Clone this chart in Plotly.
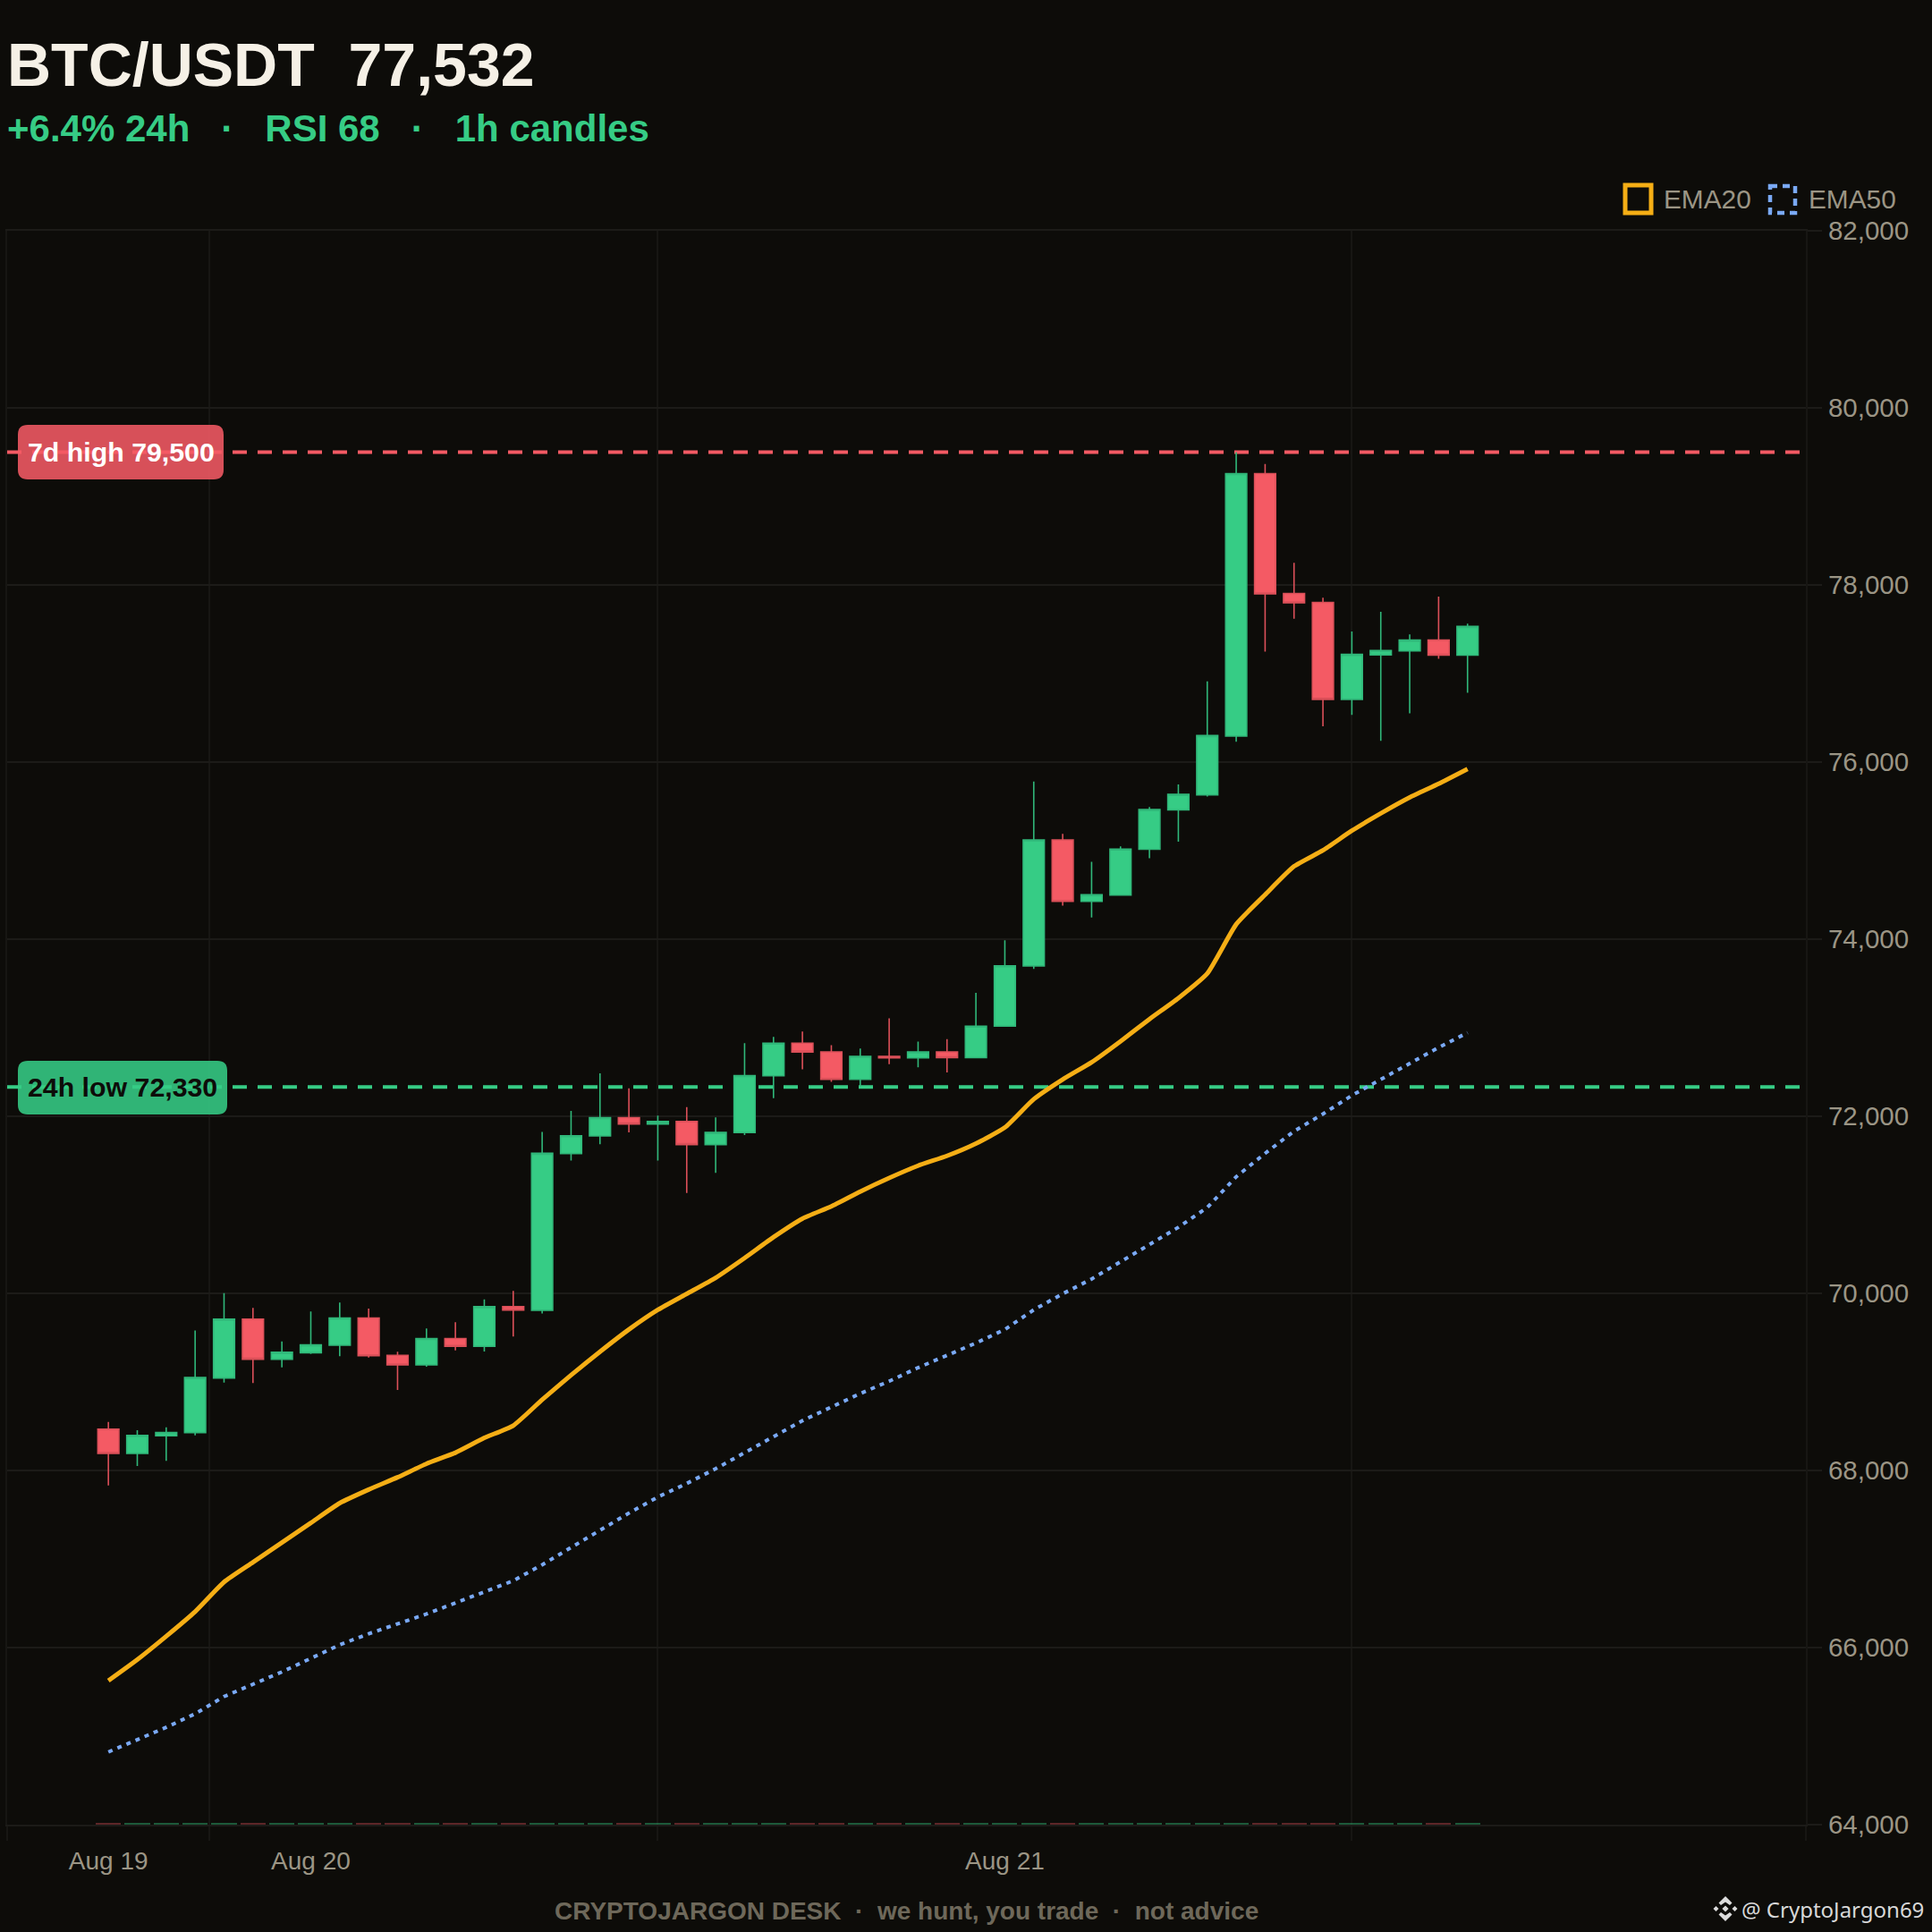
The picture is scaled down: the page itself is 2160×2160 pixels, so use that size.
import plotly.graph_objects as go

# ---------- data ----------
HOURS = list(range(48))
OPEN = [68466,68192,68391,68428,69044,69709,69256,69330,69414,69722,69301,69192,69490,69401,69850,69809,
        71580,71778,71985,71913,71941,71681,71815,72457,72825,72728,72417,72677,72659,72728,72662,73019,
        73698,75121,74427,74497,75015,75459,75629,76293,79257,77904,77803,76708,77211,77255,77378,77207]
HIGH = [68549,68455,68488,69582,70003,69835,69458,69795,69896,69828,69340,69603,69673,69933,70027,71822,
        72060,72484,72316,72007,72104,71987,72827,72897,72958,72803,72766,73105,72843,72870,73395,73987,
        75781,75190,74874,75049,75492,75748,76911,79500,79366,78250,77855,77474,77696,77443,77868,77562]
LOW = [67832,68050,68108,68397,68993,68987,69165,69316,69290,69276,68909,69172,69357,69343,69512,69772,
       71499,71684,71819,71499,71133,71362,71788,72205,72531,72390,72339,72588,72554,72494,72660,73015,
       73664,74380,74245,74495,74914,75102,75612,76229,77248,77619,76405,76533,76239,76550,77167,76782]
CLOSE = [68192,68396,68429,69049,69709,69256,69335,69419,69722,69296,69192,69490,69401,69850,69811,71582,
         71780,71985,71913,71941,71681,71817,72459,72825,72726,72417,72677,72659,72728,72662,73017,73699,
         75121,74427,74503,75017,75464,75635,76299,79257,77899,77798,76708,77216,77260,77378,77207,77532]
EMA20 = [65627,65864,66128,66406,66740,66963,67185,67408,67631,67784,67923,68076,68201,68368,68507,68799,
         69077,69341,69592,69814,69995,70176,70399,70635,70844,70983,71150,71303,71442,71553,71692,71873,
         72193,72416,72610,72847,73097,73334,73612,74168,74502,74822,75003,75225,75420,75601,75754,75921]
EMA50 = [64821,64960,65099,65252,65447,65586,65725,65878,66031,66156,66267,66379,66504,66629,66754,66935,
         67130,67324,67519,67700,67853,68020,68201,68382,68562,68716,68869,69008,69161,69300,69439,69592,
         69814,69995,70162,70357,70552,70746,70969,71317,71581,71831,72026,72235,72416,72596,72777,72944]
VOLUME = [16] * 48
HIGH_7D = 79500
LOW_24H = 72330
DATE_TICKS = [0, 7, 31]
DATE_LABELS = ["Aug 19", "Aug 20", "Aug 21"]
GRID_X = [-3.5, 3.5, 19, 43, 58.7]
X_RANGE = [-3.5, 58.7]
Y_TICKS = list(range(64000, 82001, 2000))

# ---------- style ----------
BG = "#0d0c09"
GRID = "#1c1b18"
GRID_V = "#171613"
UP = "#36cc85"
UP_EDGE = "#30b87a"
DOWN = "#f45a64"
DOWN_EDGE = "#dc5059"
AMBER = "#f5ae15"
BLUE = "#7aa9f5"
MUTED = "#9b9585"
FONT = "Liberation Sans"
W = H = 2160
L, R, T, B = 8, 2019, 258, 2040


def ax(x):  # page pixel -> paper x (relative to plot area)
    return (x - L) / (R - L)


def ay(y):
    return (B - y) / (B - T)


def path(points, close=True):
    s = "M " + " L ".join(f"{ax(x):.5f},{ay(y):.5f}" for x, y in points)
    return s + (" Z" if close else "")


def round_rect(x0, y0, x1, y1, r):
    return (f"M {ax(x0+r):.5f},{ay(y0):.5f} L {ax(x1-r):.5f},{ay(y0):.5f} "
            f"Q {ax(x1):.5f},{ay(y0):.5f} {ax(x1):.5f},{ay(y0+r):.5f} "
            f"L {ax(x1):.5f},{ay(y1-r):.5f} Q {ax(x1):.5f},{ay(y1):.5f} {ax(x1-r):.5f},{ay(y1):.5f} "
            f"L {ax(x0+r):.5f},{ay(y1):.5f} Q {ax(x0):.5f},{ay(y1):.5f} {ax(x0):.5f},{ay(y1-r):.5f} "
            f"L {ax(x0):.5f},{ay(y0+r):.5f} Q {ax(x0):.5f},{ay(y0):.5f} {ax(x0+r):.5f},{ay(y0):.5f} Z")


fig = go.Figure()

fig.add_trace(go.Candlestick(
    x=HOURS, open=OPEN, high=HIGH, low=LOW, close=CLOSE, xaxis="x", yaxis="y",
    increasing=dict(fillcolor=UP, line=dict(color=UP_EDGE, width=1.6)),
    decreasing=dict(fillcolor=DOWN, line=dict(color=DOWN_EDGE, width=1.6)),
    whiskerwidth=0, showlegend=False, hoverinfo="skip", name="BTC/USDT"))
fig.add_trace(go.Scatter(
    x=HOURS, y=EMA20, mode="lines", name="EMA20", showlegend=False, hoverinfo="skip",
    line=dict(color=AMBER, width=5, shape="spline", smoothing=0.5)))
fig.add_trace(go.Scatter(
    x=HOURS, y=EMA50, mode="lines", name="EMA50", showlegend=False, hoverinfo="skip",
    line=dict(color=BLUE, width=4, dash="5px,6px")))
fig.add_trace(go.Bar(
    x=HOURS, y=VOLUME, base=64000, xaxis="x2", yaxis="y", width=0.87, name="Volume",
    marker=dict(color=["rgba(54,204,133,0.4)" if c >= o else "rgba(244,90,100,0.35)"
                       for o, c in zip(OPEN, CLOSE)], line=dict(width=0)),
    showlegend=False, hoverinfo="skip"))

shapes = []
for value, color in ((HIGH_7D, DOWN), (LOW_24H, UP)):
    shapes.append(dict(type="line", xref="paper", x0=0, x1=1, yref="y", y0=value, y1=value,
                       layer="below", line=dict(color=color, width=4, dash="16px,12px")))
# badges
shapes.append(dict(type="path", xref="paper", yref="paper", layer="above",
                   path=round_rect(20, 475, 250, 536, 11),
                   fillcolor="rgba(244,90,100,0.88)", line=dict(width=0)))
shapes.append(dict(type="path", xref="paper", yref="paper", layer="above",
                   path=round_rect(20, 1186, 254, 1246, 11),
                   fillcolor="rgba(54,204,133,0.88)", line=dict(width=0)))
# legend swatches
shapes.append(dict(type="rect", xref="paper", yref="paper", x0=ax(1817), x1=ax(1846), y0=ay(207), y1=ay(238),
                   line=dict(color=AMBER, width=5), fillcolor="rgba(0,0,0,0)"))
shapes.append(dict(type="rect", xref="paper", yref="paper", x0=ax(1979), x1=ax(2007), y0=ay(208), y1=ay(238),
                   line=dict(color=BLUE, width=4.5, dash="8px,6px"), fillcolor="rgba(0,0,0,0)"))
# watermark mark
cx, cy = 1929, 2134
logo = [
    [(0, -14), (7.5, -6.5), (5, -4), (0, -7.5), (-5, -4), (-7.5, -6.5)],
    [(0, 14), (7.5, 6.5), (5, 4), (0, 7.5), (-5, 4), (-7.5, 6.5)],
    [(0, -3.6), (3.6, 0), (0, 3.6), (-3.6, 0)],
    [(-10.5, -3), (-7.5, 0), (-10.5, 3), (-13.5, 0)],
    [(10.5, -3), (13.5, 0), (10.5, 3), (7.5, 0)],
]
for part in logo:
    shapes.append(dict(type="path", xref="paper", yref="paper",
                       path=path([(cx + a, cy + b) for a, b in part]),
                       fillcolor="#dcdcdc", line=dict(width=0)))


def note(text, x, y, size, color, bold=False, anchor="left", family=FONT):
    return dict(text=f"<b>{text}</b>" if bold else text, xref="paper", yref="paper",
                x=ax(x), y=ay(y), xanchor=anchor, yanchor="middle", showarrow=False,
                font=dict(family=family, size=size, color=color), borderpad=0, borderwidth=0)


NB = "\u00a0"
annotations = [
    note(f"BTC/USDT{NB}{NB}77,532", 8.4, 72, 68, "#f5f0e6", True),
    note(f"+6.4% 24h{NB}{NB}{NB}·{NB}{NB}{NB}RSI 68{NB}{NB}{NB}·{NB}{NB}{NB}1h candles", 8.4, 143, 42, UP, True),
    note("EMA20", 1860, 222, 29.8, MUTED),
    note("EMA50", 2022, 222, 29.8, MUTED),
    note("7d high 79,500", 135, 505.5, 30.3, "#ffffff", True, "center"),
    note("24h low 72,330", 136.5, 1215.5, 30.3, BG, True, "center"),
    note(f"CRYPTOJARGON DESK{NB}{NB}·{NB}{NB}we hunt, you trade{NB}{NB}·{NB}{NB}not advice",
         1013, 2136, 28, "#6e685a", True, "center"),
    note("@ CryptoJargon69", 2151, 2134, 24, "#d8d8d8", False, "right", "Noto Sans"),
]

fig.update_layout(
    width=W, height=H, autosize=False,
    margin=dict(l=L - 2, r=W - R, t=T, b=H - B, pad=0),
    paper_bgcolor=BG, plot_bgcolor=BG,
    font=dict(family=FONT, color=MUTED, size=28),
    showlegend=False, hovermode=False, dragmode=False,
    boxgap=0.27, boxgroupgap=0, bargap=0,
    xaxis=dict(range=X_RANGE, tickmode="array", tickvals=GRID_X, showticklabels=False,
               showgrid=True, gridcolor=GRID_V, gridwidth=2, ticks="outside", ticklen=16,
               tickwidth=2, tickcolor=GRID_V, zeroline=False, showline=True, linecolor=GRID,
               linewidth=2, mirror=True, rangeslider=dict(visible=False), fixedrange=True),
    xaxis2=dict(overlaying="x", anchor="y", side="bottom", range=X_RANGE, tickmode="array",
                tickvals=DATE_TICKS, ticktext=DATE_LABELS, showgrid=False, zeroline=False,
                showline=False, ticks="outside", ticklen=15, tickcolor="rgba(0,0,0,0)",
                tickfont=dict(family=FONT, size=28, color=MUTED), fixedrange=True),
    yaxis=dict(range=[64000, 82000], side="right", tickmode="array", tickvals=Y_TICKS,
               tickformat=",d", showgrid=True, gridcolor=GRID, gridwidth=2, ticks="outside",
               ticklen=16, tickwidth=2, tickcolor=GRID, zeroline=False, showline=True,
               linecolor=GRID_V, linewidth=2, mirror=True, ticklabelstandoff=1,
               tickfont=dict(family=FONT, size=29.5, color=MUTED), fixedrange=True),
    shapes=shapes, annotations=annotations,
)

fig.write_html(
    "out.html",
    config=dict(displayModeBar=False, staticPlot=True),
    post_script=("document.body.style.margin='0';document.body.style.background='%s';"
                 "document.body.style.overflow='hidden';" % BG),
)
